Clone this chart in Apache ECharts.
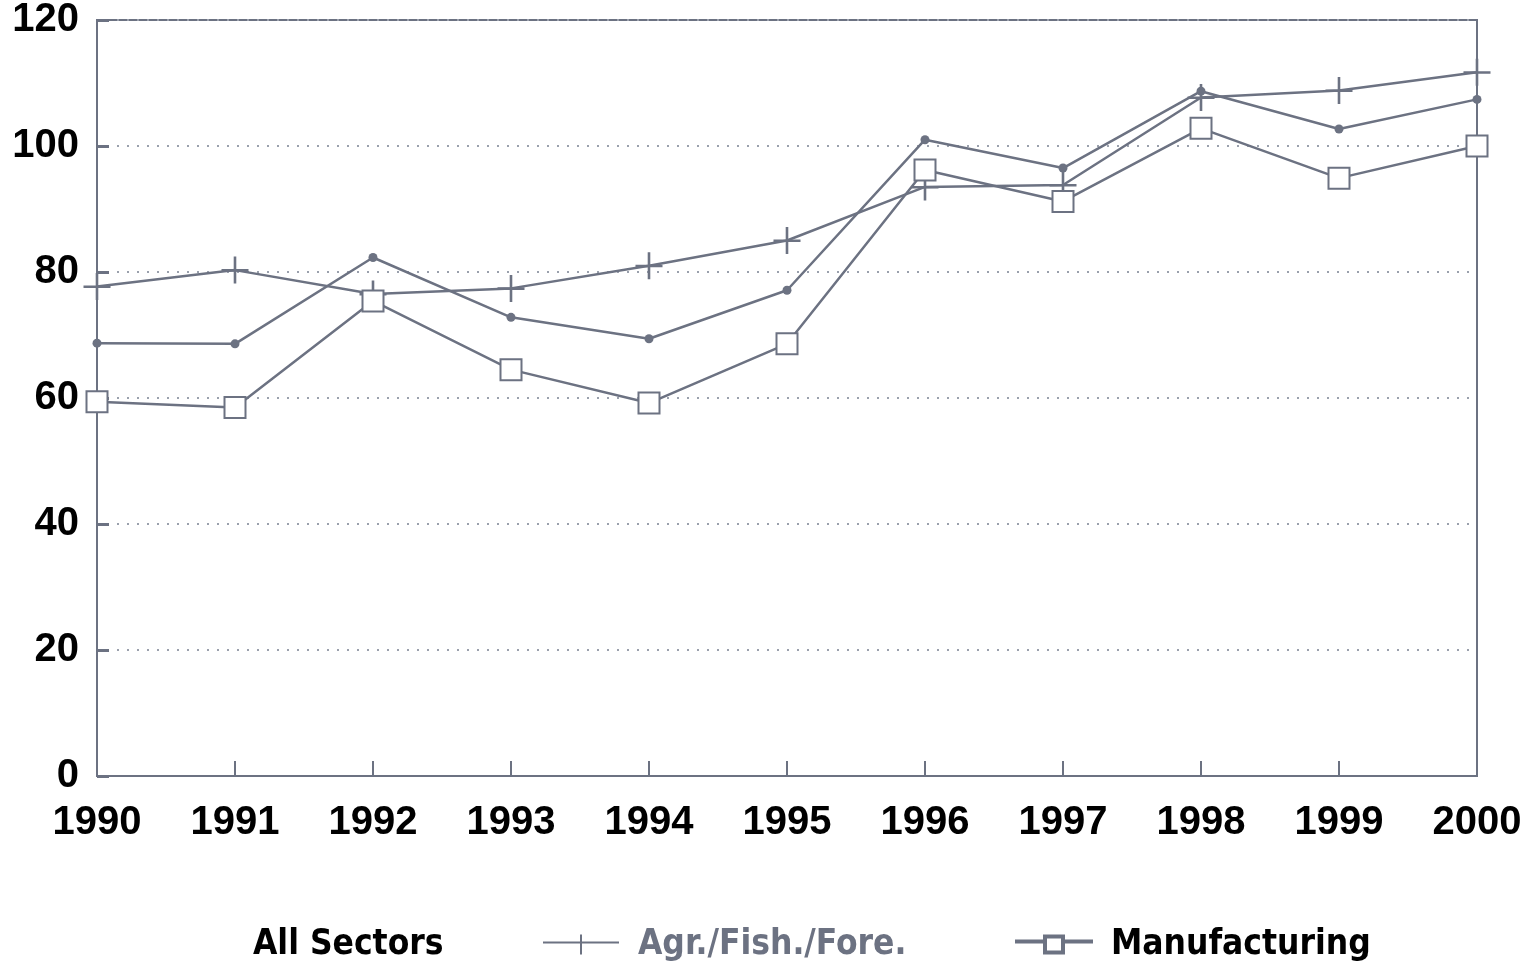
<!DOCTYPE html>
<html>
<head>
<meta charset="utf-8">
<script src="https://cdn.jsdelivr.net/npm/echarts@6/dist/echarts.min.js"></script>
<style>
  html, body { margin: 0; padding: 0; background: #fff; }
  #chart { width: 1531px; height: 962px; }
</style>
</head>
<body>
<div id="chart"></div>
<script>
// Data
const years = ['1990', '1991', '1992', '1993', '1994', '1995', '1996', '1997', '1998', '1999', '2000'];
const allSectors = [68.7, 68.6, 82.3, 72.8, 69.4, 77.1, 101.0, 96.5, 108.7, 102.7, 107.4];
const agrFishFore = [77.7, 80.3, 76.5, 77.4, 81.0, 85.0, 93.5, 93.8, 107.7, 108.8, 111.7];
const manufacturing = [59.4, 58.5, 75.4, 64.5, 59.2, 68.6, 96.2, 91.2, 102.8, 94.9, 100.0];
const yTicks = [0, 20, 40, 60, 80, 100, 120];

const ink = '#6c7282';
const font = '"Liberation Sans", Arial, sans-serif';
const narrow = '"Liberation Sans Narrow", "DejaVu Sans Condensed", "Liberation Sans", Arial, sans-serif';

// plus marker and legend icons (filled paths)
const plusPath = 'path://M0,12h26v2.5h-26z M11.75,0h2.5v26h-2.5z';
const plusLegend = 'path://M0,7h76v2h-76z M37,0h2v20h-2z';
const squareLegend = 'path://M0,5h28v2h-28z M48,5h28v2h-28z M28,0h20v18h-20z M30,2v14h16v-14z';

// one legend block per series so each sits where the original puts it
const legendText = { fontFamily: narrow, fontWeight: 'bold', fontSize: 35, color: '#000', padding: [0, 0, 0, 14] };
const makeLegend = (name, left, icon, iconColor, textColor) => ({
    left: left, top: 922,
    itemWidth: icon ? 76 : 1, itemHeight: 20,
    textStyle: Object.assign({}, legendText, { color: textColor }),
    data: [{ name: name, icon: icon || 'rect', itemStyle: { color: iconColor } }]
});

const chart = echarts.init(document.getElementById('chart'));

chart.setOption({
    animation: false,
    backgroundColor: '#fff',
    grid: {
        left: 97, right: 54, top: 17, bottom: 186,
        show: true, borderColor: ink, borderWidth: 2
    },
    legend: [
        makeLegend('All Sectors', 228, null, 'rgba(0,0,0,0)', '#000'),
        makeLegend('Agr./Fish./Fore.', 538, plusLegend, ink, ink),
        makeLegend('Manufacturing', 1010, squareLegend, '#000', '#000')
    ],
    xAxis: {
        type: 'category',
        data: years,
        boundaryGap: false,
        axisLine: { lineStyle: { color: ink, width: 2 } },
        axisTick: { inside: true, length: 15, lineStyle: { color: ink, width: 2 } },
        axisLabel: { fontFamily: font, fontWeight: 'bold', fontSize: 40, color: '#000', margin: 27 }
    },
    yAxis: {
        type: 'value',
        min: 0, max: 120, interval: 20,
        axisLine: { show: true, lineStyle: { color: ink, width: 2 } },
        axisTick: { show: true, inside: true, length: 12, lineStyle: { color: ink, width: 3 } },
        axisLabel: {
            fontFamily: font, fontWeight: 'bold', fontSize: 40, color: '#000', margin: 18,
            formatter: v => (yTicks.includes(v) ? String(v) : '')
        },
        splitLine: { show: true, lineStyle: { color: '#9aa0ac', width: 2, type: [2, 8] } }
    },
    series: [
        {
            name: 'All Sectors', type: 'line', data: allSectors,
            symbol: 'circle', symbolSize: 9,
            lineStyle: { color: ink, width: 2.5 }, itemStyle: { color: ink }
        },
        {
            name: 'Agr./Fish./Fore.', type: 'line', data: agrFishFore,
            symbol: plusPath, symbolSize: 27,
            lineStyle: { color: ink, width: 2.5 }, itemStyle: { color: ink }
        },
        {
            name: 'Manufacturing', type: 'line', data: manufacturing,
            symbol: 'emptyRect', symbolSize: 21,
            lineStyle: { color: ink, width: 2.5 },
            itemStyle: { color: ink, borderColor: ink, borderWidth: 2 }
        }
    ]
});
</script>
</body>
</html>
